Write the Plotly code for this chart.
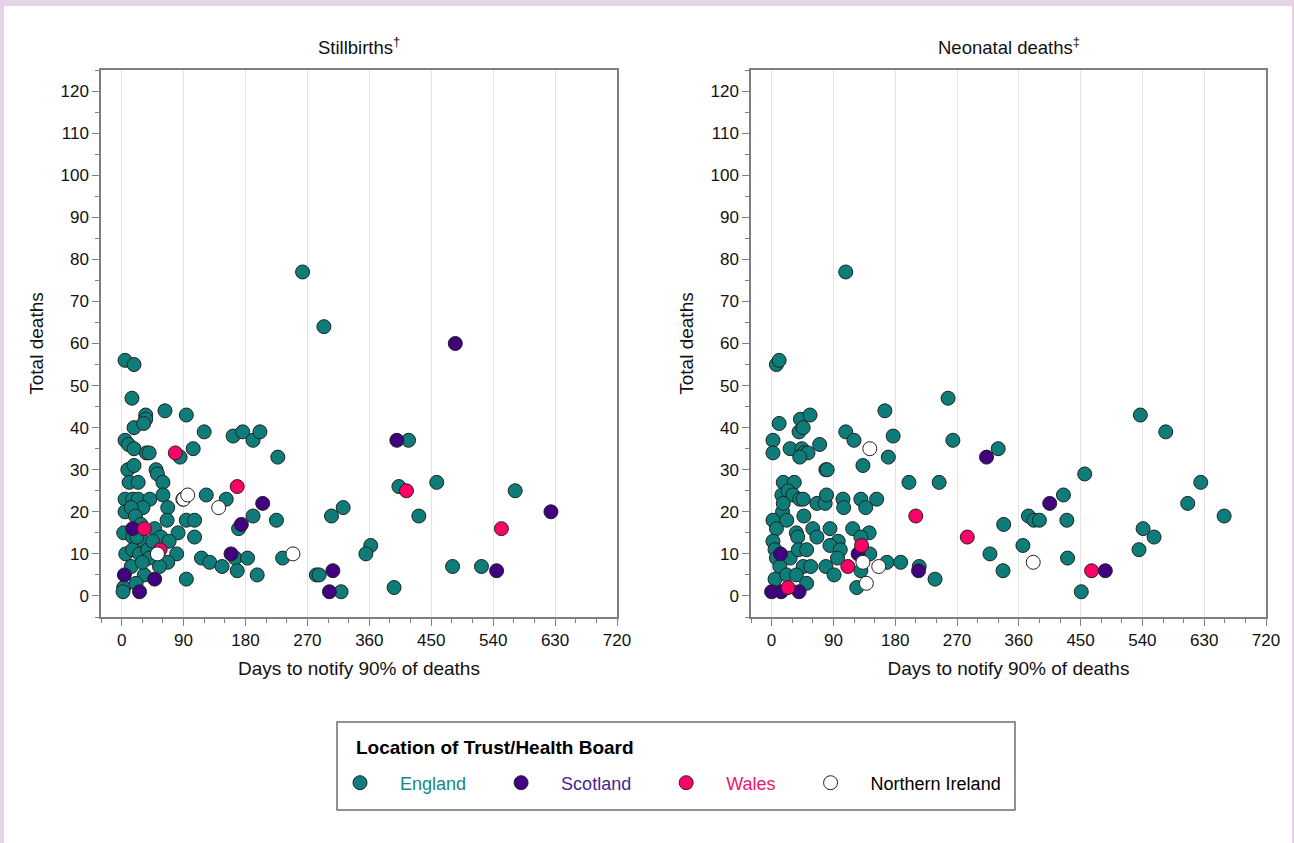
import plotly.graph_objects as go

# ---------------- data ----------------
countries = ["England", "Scotland", "Wales", "Northern Ireland"]
colors = ["#0E7D7A", "#40007F", "#FF0066", "#FFFFFF"]
label_colors = ["#178884", "#4A1C96", "#F0186A", "#000000"]

# Stillbirths: days to notify 90% of deaths (x) and total deaths (y)
sb_eng_x = [5, 18, 15, 35, 63, 94, 35, 18, 32, 120, 162, 176, 191, 201, 5, 10, 18, 36, 40, 85, 104, 227,
            9, 18, 50, 52, 60, 11, 24, 123, 152, 5, 16, 24, 41, 60, 5, 31, 67, 191, 170, 225, 94, 106, 66,
            3, 48, 82, 106, 16, 31, 57, 69, 80, 6, 16, 26, 38, 40, 116, 128, 146, 165, 183, 168, 197, 234,
            283, 67, 55, 14, 33, 94, 3, 2, 21, 89, 14, 20, 28, 22, 45, 30,
            263, 294, 417, 403, 458, 572, 322, 305, 432, 362, 355, 287, 319, 396, 481, 523]
sb_eng_y = [56, 55, 47, 43, 44, 43, 42, 40, 41, 39, 38, 39, 37, 39, 37, 36, 35, 34, 34, 33, 35, 33,
            30, 31, 30, 29, 27, 27, 27, 24, 23, 23, 23, 23, 23, 24, 20, 21, 21, 19, 16, 18, 18, 18, 18,
            15, 16, 15, 14, 14, 13, 14, 13, 10, 10, 11, 10, 11, 9, 9, 8, 7, 9, 9, 6, 5, 9,
            5, 8, 7, 7, 5, 4, 2, 1, 3, 23, 21, 19, 17, 14, 13, 8,
            77, 64, 37, 26, 27, 25, 21, 19, 19, 12, 10, 5, 1, 2, 7, 7]
sb_sco_x = [485, 400, 205, 174, 16, 159, 4, 48, 26, 307, 302, 545, 624]
sb_sco_y = [60, 37, 22, 17, 16, 10, 5, 4, 1, 6, 1, 6, 20]
sb_wal_x = [78, 168, 33, 56, 414, 552]
sb_wal_y = [34, 26, 16, 11, 25, 16]
sb_ni_x = [90, 96, 141, 52, 249]
sb_ni_y = [23, 24, 21, 10, 10]

# Neonatal deaths
nn_eng_x = [7, 11, 11, 42, 56, 40, 46, 165, 257, 2, 2, 108, 120, 27, 44, 47, 53, 41, 70, 177, 264, 170,
            133, 79, 81, 200, 244, 17, 33, 15, 24, 31, 41, 46, 66, 78, 80, 104, 105, 130, 137, 153, 16,
            17, 47, 2, 7, 22, 36, 38, 60, 66, 85, 118, 142, 130, 97, 85, 100, 143, 2, 5, 7, 27, 12, 39,
            51, 46, 57, 79, 91, 96, 168, 188, 215, 238, 130, 124, 5, 22, 36, 51, 108,
            537, 574, 330, 456, 625, 425, 606, 374, 382, 390, 430, 659, 338, 541, 557, 535, 366, 318,
            431, 337, 451]
nn_eng_y = [55, 56, 41, 42, 43, 39, 40, 44, 47, 37, 34, 39, 37, 35, 35, 34, 34, 33, 36, 38, 37, 33,
            31, 30, 30, 27, 27, 27, 27, 24, 25, 24, 23, 23, 22, 22, 24, 23, 21, 23, 21, 23, 20,
            22, 19, 18, 16, 18, 15, 14, 16, 14, 16, 16, 15, 14, 13, 12, 11, 10, 13, 11, 9, 9, 7, 11,
            11, 7, 7, 7, 5, 9, 8, 8, 7, 4, 6, 2, 4, 5, 5, 3, 77,
            43, 39, 35, 29, 27, 24, 22, 19, 18, 18, 18, 19, 17, 16, 14, 11, 12, 10,
            9, 6, 1]
nn_sco_x = [313, 405, 13, 126, 214, 486, 0, 14, 40]
nn_sco_y = [33, 22, 10, 10, 6, 6, 1, 1, 1]
nn_wal_x = [210, 131, 111, 24, 285, 466]
nn_wal_y = [19, 12, 7, 2, 14, 6]
nn_ni_x = [143, 133, 156, 138, 381]
nn_ni_y = [35, 8, 7, 3, 8]

panel_titles = ["Stillbirths<sup>†</sup>", "Neonatal deaths<sup>‡</sup>"]
x_title = "Days to notify 90% of deaths"
y_title = "Total deaths"
x_ticks = [0, 90, 180, 270, 360, 450, 540, 630, 720]
y_ticks = [0, 10, 20, 30, 40, 50, 60, 70, 80, 90, 100, 110, 120]
legend_title = "Location of Trust/Health Board"

# ---------------- figure ----------------
W, H = 1294, 843
ML, MR, MT, MB = 101, 28, 70, 226
PW, PH = W - ML - MR, H - MT - MB


def px_x(p):
    return (p - ML) / PW


def px_y(p):
    return (H - MB - p) / PH


FONT = "Liberation Sans, Arial, sans-serif"
fig = go.Figure()

panels = [
    ("x", "y", [(sb_eng_x, sb_eng_y), (sb_sco_x, sb_sco_y), (sb_wal_x, sb_wal_y), (sb_ni_x, sb_ni_y)]),
    ("x2", "y2", [(nn_eng_x, nn_eng_y), (nn_sco_x, nn_sco_y), (nn_wal_x, nn_wal_y), (nn_ni_x, nn_ni_y)]),
]
NB = "\u00a0"
for pi, (xa, ya, series) in enumerate(panels):
    for ci, (xs, ys) in enumerate(series):
        name = (NB * 4 + f'<span style="color:{label_colors[ci]}">{countries[ci]}</span>'
                + (NB * 6 if ci < 3 else NB * 2))
        fig.add_trace(go.Scatter(
            x=xs, y=ys, mode="markers", xaxis=xa, yaxis=ya,
            name=name, legendgroup=countries[ci], showlegend=(pi == 0),
            marker=dict(size=14, color=colors[ci], line=dict(color="#222222", width=1)),
            hovertemplate=countries[ci] + ": %{x} days, %{y} deaths<extra></extra>",
        ))

axis_common = dict(
    showline=True, linecolor="#7F7F7F", linewidth=1.5, mirror=True,
    ticks="outside", ticklen=7, tickwidth=1.3, tickcolor="#7F7F7F",
    tickfont=dict(family=FONT, size=17, color="#111111"),
    zeroline=False,
)
xaxis_cfg = dict(axis_common, range=[-30, 720], tickvals=x_ticks, showgrid=True,
                 gridcolor="#E3E3E3", gridwidth=1,
                 minor=dict(dtick=30, tick0=0, ticks="outside", ticklen=4, tickcolor="#7F7F7F",
                            tickwidth=1.3, showgrid=False),
                 title=dict(text=x_title, font=dict(family=FONT, size=19, color="#111111"), standoff=13))
yaxis_cfg = dict(axis_common, range=[-5, 125], tickvals=y_ticks, showgrid=False,
                 minor=dict(dtick=5, tick0=0, ticks="outside", ticklen=4, tickcolor="#7F7F7F",
                            tickwidth=1.3, showgrid=False),
                 title=dict(text=y_title, font=dict(family=FONT, size=19, color="#111111"), standoff=12))

left_dom = [0, px_x(617)]
right_dom = [px_x(751), 1]

fig.update_layout(
    width=W, height=H,
    margin=dict(l=ML, r=MR, t=MT, b=MB, autoexpand=False),
    paper_bgcolor="#E5D3E6", plot_bgcolor="#FFFFFF",
    font=dict(family=FONT, color="#111111"),
    xaxis=dict(xaxis_cfg, domain=left_dom, anchor="y"),
    yaxis=dict(yaxis_cfg, domain=[0, 1], anchor="x"),
    xaxis2=dict(xaxis_cfg, domain=right_dom, anchor="y2"),
    yaxis2=dict(yaxis_cfg, domain=[0, 1], anchor="x2"),
    showlegend=True,
    legend=dict(
        orientation="h", x=px_x(340), xanchor="left", y=px_y(783), yanchor="middle",
        bgcolor="rgba(0,0,0,0)", borderwidth=0, itemwidth=30,
        font=dict(family=FONT, size=18, color="#000000"),
        itemclick=False, itemdoubleclick=False,
    ),
    shapes=[
        dict(type="rect", xref="paper", yref="paper", layer="below",
             x0=px_x(4), x1=px_x(1292), y0=px_y(843), y1=px_y(6),
             fillcolor="#FFFFFF", line=dict(width=0)),
        dict(type="rect", xref="paper", yref="paper", layer="above",
             x0=px_x(337), x1=px_x(1015), y0=px_y(810), y1=px_y(722),
             fillcolor="rgba(0,0,0,0)", line=dict(color="#6E6E6E", width=1.5)),
    ],
    annotations=[
        dict(text=panel_titles[0], xref="paper", yref="paper",
             x=(left_dom[0] + left_dom[1]) / 2, y=px_y(46), xanchor="center", yanchor="middle",
             showarrow=False, font=dict(family=FONT, size=18.5, color="#111111")),
        dict(text=panel_titles[1], xref="paper", yref="paper",
             x=(right_dom[0] + right_dom[1]) / 2, y=px_y(46), xanchor="center", yanchor="middle",
             showarrow=False, font=dict(family=FONT, size=18.5, color="#111111")),
        dict(text=f"<b>{legend_title}</b>", xref="paper", yref="paper",
             x=px_x(354), y=px_y(747), xanchor="left", yanchor="middle",
             showarrow=False, font=dict(family=FONT, size=19, color="#000000")),
    ],
)

fig.write_html("out.html",
               config={"displayModeBar": False},
               post_script="document.body.style.margin='0';document.body.style.overflow='hidden';")
